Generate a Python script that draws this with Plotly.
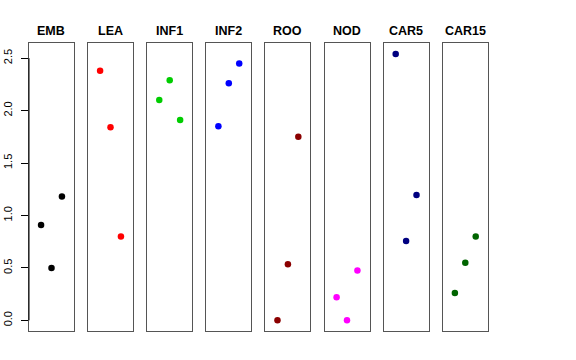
import plotly.graph_objects as go

W, H = 576, 360

panels = ["EMB", "LEA", "INF1", "INF2", "ROO", "NOD", "CAR5", "CAR15"]
colors = ["#000000", "#FF0000", "#00CD00", "#0000FF", "#8B0000", "#FF00FF", "#000080", "#006400"]
x_pos = [1, 2, 3]
values = {
    "EMB":   [0.91, 0.50, 1.18],
    "LEA":   [2.38, 1.84, 0.80],
    "INF1":  [2.10, 2.29, 1.91],
    "INF2":  [1.85, 2.26, 2.45],
    "ROO":   [0.00, 0.535, 1.75],
    "NOD":   [0.22, 0.00, 0.475],
    "CAR5":  [2.54, 0.757, 1.195],
    "CAR15": [0.26, 0.55, 0.80],
}
y_ticks = [0.0, 0.5, 1.0, 1.5, 2.0, 2.5]
y_range = [-0.1016, 2.6416]
x_range = [-0.16, 4.16]

fig = go.Figure()

lefts = [29.0, 88.0, 147.2, 206.3, 265.4, 324.5, 383.6, 442.8]
pw = 45.0
top_px, bot_px = 43.3, 331.0
y_dom = [1 - bot_px / H, 1 - top_px / H]

def px(xp):
    return xp / W

for i, name in enumerate(panels):
    ax = "" if i == 0 else str(i + 1)
    x0 = px(lefts[i])
    x1 = px(lefts[i] + pw)
    fig.add_trace(go.Scatter(
        x=x_pos, y=values[name], mode="markers",
        marker=dict(color=colors[i], size=6.5, line=dict(width=0)),
        xaxis="x" + ax, yaxis="y" + ax, showlegend=False, hoverinfo="skip",
        cliponaxis=False))
    fig.layout["xaxis" + ax] = dict(
        domain=[x0, x1], range=x_range, showgrid=False, zeroline=False,
        showticklabels=False, ticks="", showline=True, mirror=True,
        linecolor="#555555", linewidth=1, anchor="y" + ax, fixedrange=True,
        automargin=False)
    yax = dict(
        domain=y_dom, range=y_range, showgrid=False, zeroline=False,
        showline=True, mirror=True, linecolor="#555555", linewidth=1,
        anchor="x" + ax, fixedrange=True, automargin=False)
    if i == 0:
        yax.update(tickvals=y_ticks, ticktext=[f"{v:.1f}" for v in y_ticks],
                   ticks="outside", ticklen=7, tickcolor="#000000", tickwidth=1,
                   tickangle=-90, ticklabelstandoff=5,
                   tickfont=dict(family="Liberation Sans, Arial, sans-serif", size=11, color="#000000"))
    else:
        yax.update(showticklabels=False, ticks="")
    fig.layout["yaxis" + ax] = yax
    fig.add_annotation(
        x=(x0 + x1) / 2, y=1 - 30.5 / H, xref="paper", yref="paper",
        text="<b>" + name + "</b>", showarrow=False,
        font=dict(family="Liberation Sans, Arial, sans-serif", size=12.5, color="#000000"),
        xanchor="center", yanchor="middle")

# R-style left axis line from 0 to 2.5
fig.add_shape(type="line", xref="paper", yref="y", x0=px(lefts[0]), x1=px(lefts[0]),
              y0=y_ticks[0], y1=y_ticks[-1], line=dict(color="#000000", width=1))

fig.update_layout(width=W, height=H, margin=dict(l=0, r=0, t=0, b=0, pad=0, autoexpand=False),
                  paper_bgcolor="white", plot_bgcolor="white")
fig.write_html("out.html", config={"displayModeBar": False},
               post_script="document.body.style.margin='0';document.body.style.overflow='hidden';")
